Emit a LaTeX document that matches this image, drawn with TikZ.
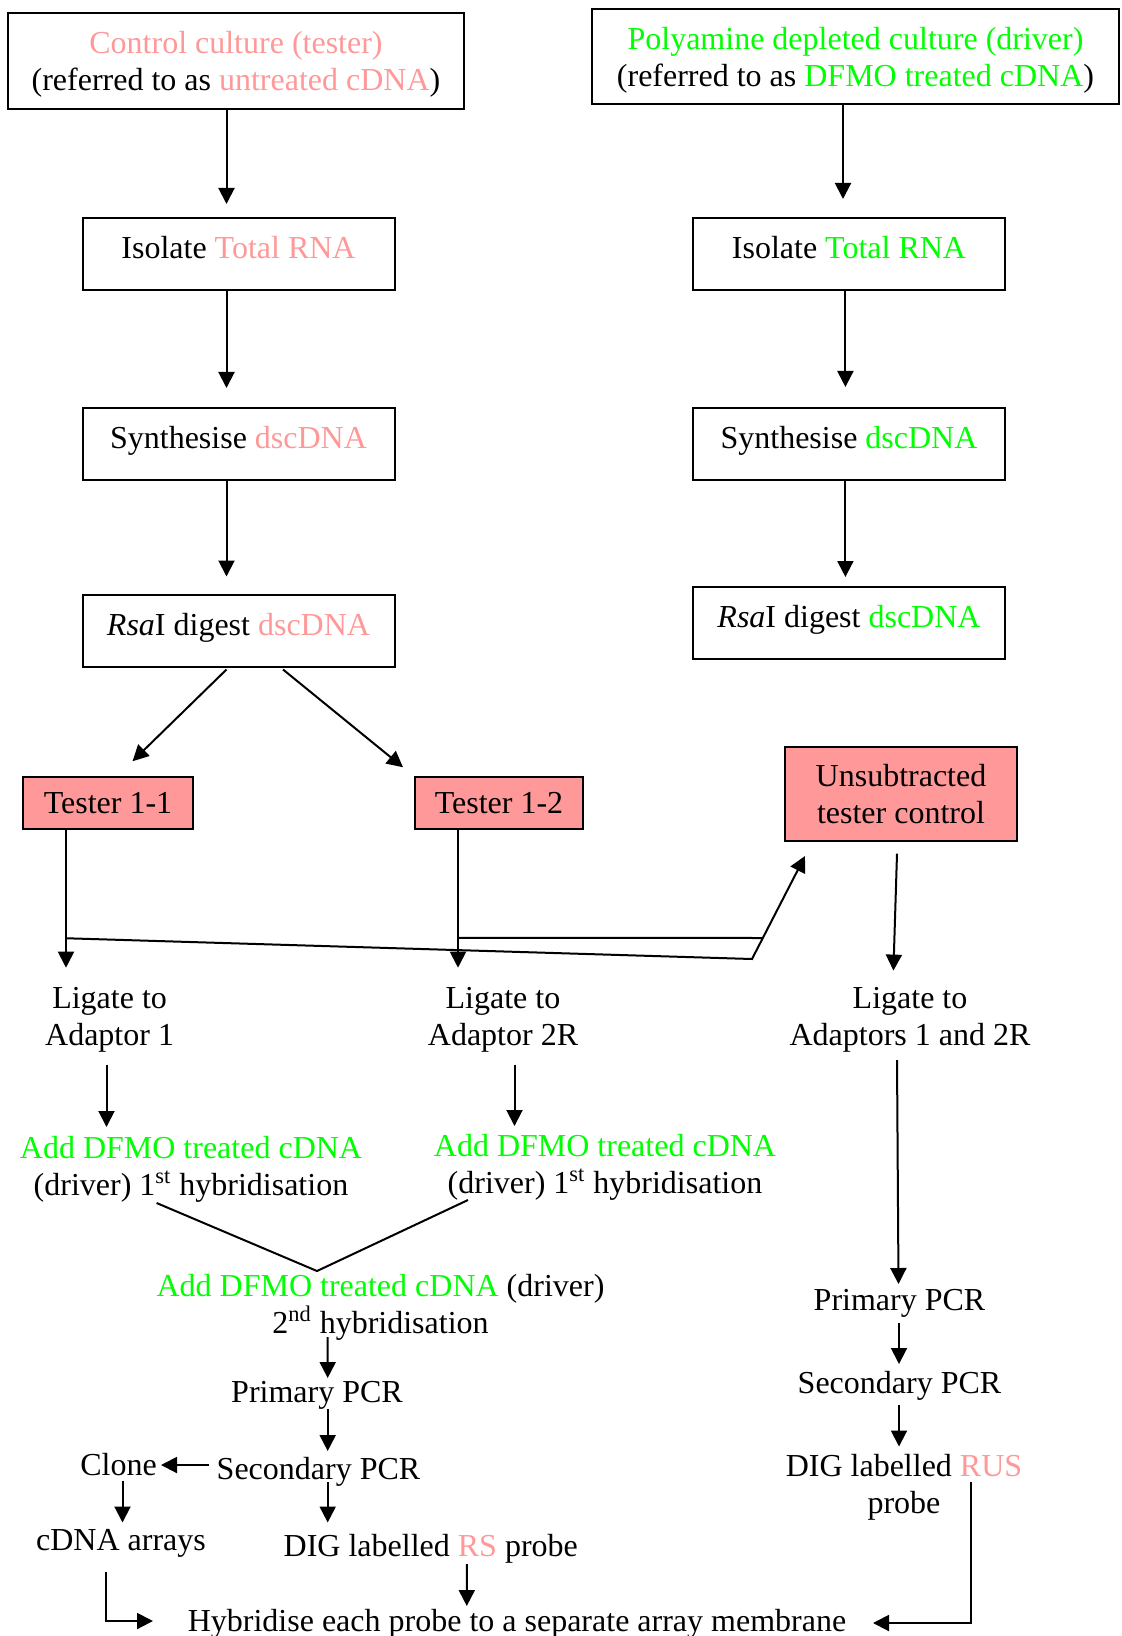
\documentclass[tikz,border=0pt]{standalone}
\usepackage{fontspec}
\setmainfont{Liberation Serif}
\usetikzlibrary{arrows.meta,calc}
\definecolor{pk}{HTML}{FF9999}
\definecolor{gr}{HTML}{00FF00}
\definecolor{pkfill}{HTML}{FF9999}
\begin{document}
\begin{tikzpicture}[x=0.5pt,y=-0.5pt,
  every node/.style={font=\fontsize{16}{18.5}\selectfont, inner sep=0pt, align=center},
  bx/.style={draw, line width=1pt, minimum width=156pt, minimum height=36pt, text height=11pt, text depth=6.4pt},
  bigbox/.style={draw, line width=1pt},
  tst/.style={draw, line width=1pt, fill=pkfill},
  arr/.style={line width=1pt, -{Triangle[width=8pt,length=8pt]}},
  ln/.style={line width=1pt}]
\clip (0,0) rectangle (1122,1636);
% boxes
\node[bigbox, minimum width=228pt, minimum height=48pt, text depth=0pt] (ctrl) at (236,61) {\textcolor{pk}{Control culture (tester)}\\(referred to as \textcolor{pk}{untreated cDNA})};
\node[bigbox, minimum width=263.5pt, minimum height=47.5pt, text depth=0pt] (poly) at (855.5,56.5) {\textcolor{gr}{Polyamine depleted culture (driver)}\\(referred to as \textcolor{gr}{DFMO treated cDNA})};
\node[bx] (iso1) at (238.5,254) {Isolate \textcolor{pk}{Total RNA}};
\node[bx] (syn1) at (238.5,444) {Synthesise \textcolor{pk}{dscDNA}};
\node[bx] (rsa1) at (238.5,630.5) {\textit{Rsa}I digest \textcolor{pk}{dscDNA}};
\node[bx] (iso2) at (849,254) {Isolate \textcolor{gr}{Total RNA}};
\node[bx] (syn2) at (849,444) {Synthesise \textcolor{gr}{dscDNA}};
\node[bx] (rsa2) at (849,622.5) {\textit{Rsa}I digest \textcolor{gr}{dscDNA}};
\node[tst, minimum width=85pt, minimum height=26.25pt] (t11) at (108,803) {Tester 1-1};
\node[tst, minimum width=84pt, minimum height=26.25pt] (t12) at (499,803) {Tester 1-2};
\node[tst, minimum width=116.3pt, minimum height=47pt] (uns) at (901,794) {Unsubtracted\\tester control};
% free texts
\node (lig1) at (109.6,1020) {Ligate to\\Adaptor 1};
\node (lig2) at (503,1020) {Ligate to\\Adaptor 2R};
\node (lig3) at (910,1020) {Ligate to\\Adaptors 1 and 2R};
\node (add1) at (191,1169.5) {\textcolor{gr}{Add DFMO treated cDNA}\\(driver) 1\textsuperscript{st} hybridisation};
\node (add2) at (605,1167.5) {\textcolor{gr}{Add DFMO treated cDNA}\\(driver) 1\textsuperscript{st} hybridisation};
\node (add3) at (380.5,1307.5) {\textcolor{gr}{Add DFMO treated cDNA} (driver)\\2\textsuperscript{nd} hybridisation};
\node (pcr1) at (317,1395) {Primary PCR};
\node (sec1) at (318.5,1472) {Secondary PCR};
\node (clone) at (118.6,1465) {Clone};
\node (arrays) at (121,1543) {cDNA arrays};
\node (dig1) at (430.8,1548.4) {DIG labelled \textcolor{pk}{RS} probe};
\node[anchor=base] (hyb) at (517,1631) {Hybridise each probe to a separate array membrane};
\node (pcr2) at (899.5,1303) {Primary PCR};
\node (sec2) at (899.5,1386) {Secondary PCR};
\node (dig2) at (904,1487) {DIG labelled \textcolor{pk}{RUS}\\probe};
% connectors, left column
\draw[arr] ($(ctrl.south)+(-9.5,0)$) -- ($(iso1.north)+(-12,-13)$);
\draw[arr] ($(iso1.south)+(-12,0)$) -- ($(syn1.north)+(-12,-19)$);
\draw[arr] ($(syn1.south)+(-12,0)$) -- ($(rsa1.north)+(-12,-17)$);
\draw[arr] ($(rsa1.south)+(-12,2)$) -- ($(t11.north)+(24.5,-14.5)$);
\draw[arr] ($(rsa1.south)+(44.5,2)$) -- ($(t12.north)+(-96,-8.5)$);
% right column
\draw[arr] ($(poly.south)+(-12.5,0)$) -- ($(iso2.north)+(-6,-18)$);
\draw[arr] ($(iso2.south)+(-3.6,0)$) -- ($(syn2.north)+(-3.6,-20)$);
\draw[arr] ($(syn2.south)+(-3.6,0)$) -- ($(rsa2.north)+(-3.6,-8.5)$);
% testers
\draw[arr] ($(t11.south)+(-42,0)$) -- ($(lig1.center)+(-43.6,-52.3)$);
\draw[arr] ($(t12.south)+(-41,0)$) -- ($(lig2.center)+(-45,-52.3)$);
\draw[arr] ($(t11.south)+(-42,108)$) -- ($(uns.south)+(-149,117)$) -- ($(uns.south)+(-96,14)$);
\draw[ln] ($(t12.south)+(-41,107.5)$) -- ($(uns.south)+(-138.2,96)$);
\draw[arr] ($(uns.south)+(-4,11.7)$) -- ($(lig3.center)+(-16.6,-49.4)$);
% ligations
\draw[arr] ($(lig1.center)+(-3.1,44.6)$) -- ($(add1.center)+(-84.5,-42.5)$);
\draw[arr] ($(lig2.center)+(11.5,44.6)$) -- ($(add2.center)+(-90.5,-41.5)$);
\draw[arr] ($(lig3.center)+(-13,40)$) -- ($(pcr2.center)+(-1,-19)$);
% merge
\draw[ln] ($(add1.center)+(-34.4,33.5)$) -- ($(add3.center)+(-63.5,-36.5)$) -- ($(add2.center)+(-137,32.5)$);
% lower left
\draw[arr] ($(add3.center)+(-52.8,29.5)$) -- ($(pcr1.center)+(10.7,-17)$);
\draw[arr] ($(pcr1.center)+(10.7,14)$) -- ($(sec1.center)+(9.2,-21)$);
\draw[arr] ($(sec1.center)+(-109.5,-7)$) -- ($(clone.center)+(42.4,0)$);
\draw[arr] ($(clone.center)+(3.9,16)$) -- ($(arrays.center)+(1.5,-20.5)$);
\draw[arr] ($(sec1.center)+(9.2,10)$) -- ($(dig1.center)+(-103.1,-25.9)$);
\draw[arr] ($(dig1.center)+(36,15.6)$) -- ($(hyb.base)+(-50.2,-25)$);
\draw[arr] ($(arrays.center)+(-15,29)$) |- ($(hyb.base)+(-364,-10)$);
% lower right
\draw[arr] ($(pcr2.center)+(-0.5,20)$) -- ($(sec2.center)+(-0.5,-22)$);
\draw[arr] ($(sec2.center)+(-0.5,19)$) -- ($(dig2.center)+(-5,-40.5)$);
\draw[arr] ($(dig2.center)+(66.6,-5)$) |- ($(hyb.base)+(356,-8)$);
\end{tikzpicture}
\end{document}
